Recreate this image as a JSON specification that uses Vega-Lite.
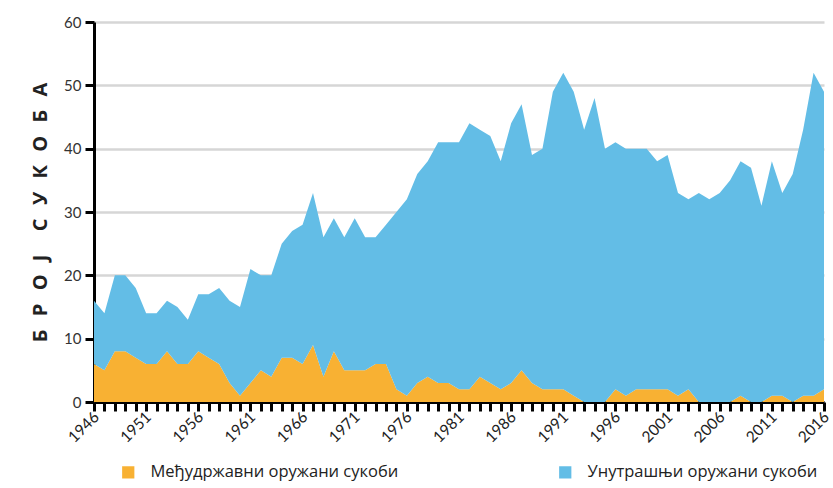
{
 "$schema": "https://vega.github.io/schema/vega-lite/v6.json",
 "width": 730,
 "height": 380,
 "autosize": {"type": "none"},
 "padding": {"left": 94, "top": 22, "right": 9, "bottom": 86},
 "background": "white",
 "config": {"view": {"stroke": null}, "font": "Lato",
  "axis": {"ticks": true, "tickColor": "black", "tickSize": 9, "tickWidth": 3, "tickOpacity": 1, "domainColor": "black", "domainWidth": 3}},
 "data": {"values": [
  {"year":1946,"Међудржавни оружани сукоби":6,"Унутрашњи оружани сукоби":10},
  {"year":1947,"Међудржавни оружани сукоби":5,"Унутрашњи оружани сукоби":9},
  {"year":1948,"Међудржавни оружани сукоби":8,"Унутрашњи оружани сукоби":12},
  {"year":1949,"Међудржавни оружани сукоби":8,"Унутрашњи оружани сукоби":12},
  {"year":1950,"Међудржавни оружани сукоби":7,"Унутрашњи оружани сукоби":11},
  {"year":1951,"Међудржавни оружани сукоби":6,"Унутрашњи оружани сукоби":8},
  {"year":1952,"Међудржавни оружани сукоби":6,"Унутрашњи оружани сукоби":8},
  {"year":1953,"Међудржавни оружани сукоби":8,"Унутрашњи оружани сукоби":8},
  {"year":1954,"Међудржавни оружани сукоби":6,"Унутрашњи оружани сукоби":9},
  {"year":1955,"Међудржавни оружани сукоби":6,"Унутрашњи оружани сукоби":7},
  {"year":1956,"Међудржавни оружани сукоби":8,"Унутрашњи оружани сукоби":9},
  {"year":1957,"Међудржавни оружани сукоби":7,"Унутрашњи оружани сукоби":10},
  {"year":1958,"Међудржавни оружани сукоби":6,"Унутрашњи оружани сукоби":12},
  {"year":1959,"Међудржавни оружани сукоби":3,"Унутрашњи оружани сукоби":13},
  {"year":1960,"Међудржавни оружани сукоби":1,"Унутрашњи оружани сукоби":14},
  {"year":1961,"Међудржавни оружани сукоби":3,"Унутрашњи оружани сукоби":18},
  {"year":1962,"Међудржавни оружани сукоби":5,"Унутрашњи оружани сукоби":15},
  {"year":1963,"Међудржавни оружани сукоби":4,"Унутрашњи оружани сукоби":16},
  {"year":1964,"Међудржавни оружани сукоби":7,"Унутрашњи оружани сукоби":18},
  {"year":1965,"Међудржавни оружани сукоби":7,"Унутрашњи оружани сукоби":20},
  {"year":1966,"Међудржавни оружани сукоби":6,"Унутрашњи оружани сукоби":22},
  {"year":1967,"Међудржавни оружани сукоби":9,"Унутрашњи оружани сукоби":24},
  {"year":1968,"Међудржавни оружани сукоби":4,"Унутрашњи оружани сукоби":22},
  {"year":1969,"Међудржавни оружани сукоби":8,"Унутрашњи оружани сукоби":21},
  {"year":1970,"Међудржавни оружани сукоби":5,"Унутрашњи оружани сукоби":21},
  {"year":1971,"Међудржавни оружани сукоби":5,"Унутрашњи оружани сукоби":24},
  {"year":1972,"Међудржавни оружани сукоби":5,"Унутрашњи оружани сукоби":21},
  {"year":1973,"Међудржавни оружани сукоби":6,"Унутрашњи оружани сукоби":20},
  {"year":1974,"Међудржавни оружани сукоби":6,"Унутрашњи оружани сукоби":22},
  {"year":1975,"Међудржавни оружани сукоби":2,"Унутрашњи оружани сукоби":28},
  {"year":1976,"Међудржавни оружани сукоби":1,"Унутрашњи оружани сукоби":31},
  {"year":1977,"Међудржавни оружани сукоби":3,"Унутрашњи оружани сукоби":33},
  {"year":1978,"Међудржавни оружани сукоби":4,"Унутрашњи оружани сукоби":34},
  {"year":1979,"Међудржавни оружани сукоби":3,"Унутрашњи оружани сукоби":38},
  {"year":1980,"Међудржавни оружани сукоби":3,"Унутрашњи оружани сукоби":38},
  {"year":1981,"Међудржавни оружани сукоби":2,"Унутрашњи оружани сукоби":39},
  {"year":1982,"Међудржавни оружани сукоби":2,"Унутрашњи оружани сукоби":42},
  {"year":1983,"Међудржавни оружани сукоби":4,"Унутрашњи оружани сукоби":39},
  {"year":1984,"Међудржавни оружани сукоби":3,"Унутрашњи оружани сукоби":39},
  {"year":1985,"Међудржавни оружани сукоби":2,"Унутрашњи оружани сукоби":36},
  {"year":1986,"Међудржавни оружани сукоби":3,"Унутрашњи оружани сукоби":41},
  {"year":1987,"Међудржавни оружани сукоби":5,"Унутрашњи оружани сукоби":42},
  {"year":1988,"Међудржавни оружани сукоби":3,"Унутрашњи оружани сукоби":36},
  {"year":1989,"Међудржавни оружани сукоби":2,"Унутрашњи оружани сукоби":38},
  {"year":1990,"Међудржавни оружани сукоби":2,"Унутрашњи оружани сукоби":47},
  {"year":1991,"Међудржавни оружани сукоби":2,"Унутрашњи оружани сукоби":50},
  {"year":1992,"Међудржавни оружани сукоби":1,"Унутрашњи оружани сукоби":48},
  {"year":1993,"Међудржавни оружани сукоби":0,"Унутрашњи оружани сукоби":43},
  {"year":1994,"Међудржавни оружани сукоби":0,"Унутрашњи оружани сукоби":48},
  {"year":1995,"Међудржавни оружани сукоби":0,"Унутрашњи оружани сукоби":40},
  {"year":1996,"Међудржавни оружани сукоби":2,"Унутрашњи оружани сукоби":39},
  {"year":1997,"Међудржавни оружани сукоби":1,"Унутрашњи оружани сукоби":39},
  {"year":1998,"Међудржавни оружани сукоби":2,"Унутрашњи оружани сукоби":38},
  {"year":1999,"Међудржавни оружани сукоби":2,"Унутрашњи оружани сукоби":38},
  {"year":2000,"Међудржавни оружани сукоби":2,"Унутрашњи оружани сукоби":36},
  {"year":2001,"Међудржавни оружани сукоби":2,"Унутрашњи оружани сукоби":37},
  {"year":2002,"Међудржавни оружани сукоби":1,"Унутрашњи оружани сукоби":32},
  {"year":2003,"Међудржавни оружани сукоби":2,"Унутрашњи оружани сукоби":30},
  {"year":2004,"Међудржавни оружани сукоби":0,"Унутрашњи оружани сукоби":33},
  {"year":2005,"Међудржавни оружани сукоби":0,"Унутрашњи оружани сукоби":32},
  {"year":2006,"Међудржавни оружани сукоби":0,"Унутрашњи оружани сукоби":33},
  {"year":2007,"Међудржавни оружани сукоби":0,"Унутрашњи оружани сукоби":35},
  {"year":2008,"Међудржавни оружани сукоби":1,"Унутрашњи оружани сукоби":37},
  {"year":2009,"Међудржавни оружани сукоби":0,"Унутрашњи оружани сукоби":37},
  {"year":2010,"Међудржавни оружани сукоби":0,"Унутрашњи оружани сукоби":31},
  {"year":2011,"Међудржавни оружани сукоби":1,"Унутрашњи оружани сукоби":37},
  {"year":2012,"Међудржавни оружани сукоби":1,"Унутрашњи оружани сукоби":32},
  {"year":2013,"Међудржавни оружани сукоби":0,"Унутрашњи оружани сукоби":36},
  {"year":2014,"Међудржавни оружани сукоби":1,"Унутрашњи оружани сукоби":42},
  {"year":2015,"Међудржавни оружани сукоби":1,"Унутрашњи оружани сукоби":51},
  {"year":2016,"Међудржавни оружани сукоби":2,"Унутрашњи оружани сукоби":47}
 ]},
 "transform": [{"fold": ["Међудржавни оружани сукоби", "Унутрашњи оружани сукоби"], "as": ["type", "n"]}],
 "mark": {"type": "area", "interpolate": "linear"},
 "encoding": {
  "x": {"field": "year", "type": "quantitative",
   "scale": {"domain": [1946, 2016], "nice": false, "zero": false},
   "axis": {"title": null, "tickCount": 70, "format": "d",
    "labelExpr": "(datum.value - 1946) % 5 === 0 ? datum.label : ''",
    "labelOverlap": false, "labelFlush": false, "labelAngle": -45, "labelAlign": "right", "labelBaseline": "middle",
    "labelPadding": 3, "labelOffset": 2, "labelFontSize": 15.5, "labelColor": "#222", "grid": false}},
  "y": {"field": "n", "type": "quantitative", "stack": "zero",
   "scale": {"domain": [0, 60]},
   "axis": {"values": [0, 10, 20, 30, 40, 50, 60], "title": "Б\u2002\u2009Р\u2002\u2009О\u2002\u2009Ј\u2002\u2002\u2009С\u2002\u2009У\u2002\u2009К\u2002\u2009О\u2002\u2009Б\u2002\u2009А",
    "grid": true, "gridColor": "#d6d6d6", "gridWidth": 2.5,
    "labelFontSize": 15, "labelColor": "#333", "labelPadding": 4,
    "titleFontSize": 20, "titleFontWeight": "bold", "titleColor": "#222", "titleFont": "Open Sans",
    "titleX": -54, "titleY": 190, "titleAngle": 270, "titleAlign": "center", "titleBaseline": "middle"}},
  "color": {"field": "type", "type": "nominal",
   "scale": {"domain": ["Међудржавни оружани сукоби", "Унутрашњи оружани сукоби"], "range": ["#F8B133", "#63BDE6"]},
   "legend": {"title": null, "orient": "none", "legendX": 26, "legendY": 442, "direction": "horizontal",
    "symbolType": "square", "symbolSize": 150, "symbolStrokeWidth": 0, "symbolOpacity": 1,
    "labelFontSize": 16.5, "labelFont": "Open Sans", "labelColor": "#222", "labelOffset": 14,
    "columnPadding": 158, "labelLimit": 400}},
  "order": {"field": "type", "sort": "ascending"}
 }
}
